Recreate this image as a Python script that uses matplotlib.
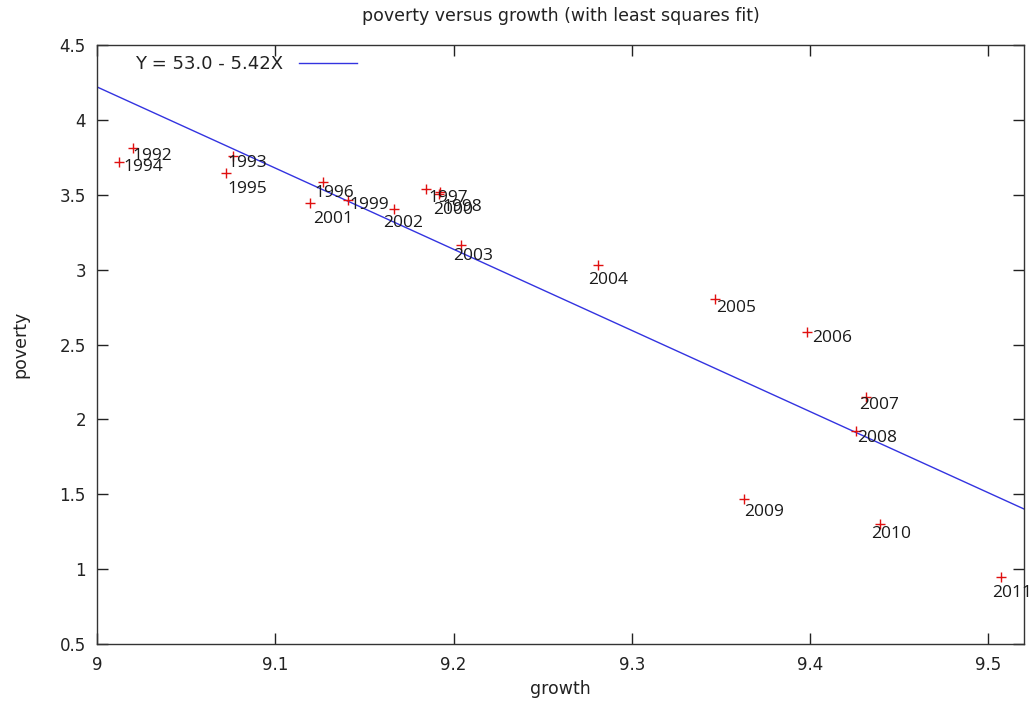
import numpy as np
import matplotlib
matplotlib.use("Agg")
import matplotlib.pyplot as plt

# Yearly observations: growth (x) against poverty (y)
years = ["1992", "1993", "1994", "1995", "1996", "1997", "1998", "1999", "2000", "2001",
         "2002", "2003", "2004", "2005", "2006", "2007", "2008", "2009", "2010", "2011"]
growth = [9.0202, 9.0762, 9.0123, 9.0723, 9.1267, 9.1844, 9.1923, 9.1407, 9.1917, 9.1194,
          9.1665, 9.2040, 9.2808, 9.3464, 9.3985, 9.4311, 9.4260, 9.3627, 9.4395, 9.5073]
poverty = [3.812, 3.759, 3.719, 3.645, 3.585, 3.538, 3.518, 3.465, 3.505, 3.445,
           3.405, 3.164, 3.031, 2.804, 2.583, 2.149, 1.922, 1.468, 1.301, 0.947]

# Least squares fit coefficients, as printed in the key
intercept = 53.0
slope = -5.42

# Label placement relative to each point (pixels, right / down)
label_offsets = {
    "1992": (-1, 8), "1993": (-5, 7), "1994": (4, 5), "1995": (2, 16),
    "1996": (-8, 11), "1997": (3, 9), "1998": (3, 15), "1999": (2, 5),
    "2000": (-6, 16), "2001": (3, 16), "2002": (-11, 14), "2003": (-8, 11),
    "2004": (-9, 15), "2005": (2, 9), "2006": (5, 6), "2007": (-6, 8),
    "2008": (1, 7), "2009": (1, 13), "2010": (-9, 10), "2011": (-9, 16),
}

x_range = (9.0, 9.52)
y_range = (0.5, 4.5)

plt.rcParams["font.family"] = ["DejaVu Sans"]

dpi = 100
fig = plt.figure(figsize=(1033 / dpi, 704 / dpi), dpi=dpi)
ax = fig.add_axes([97 / 1033, 1 - 644 / 704, (1024 - 97) / 1033, (644 - 45) / 704])

ax.set_xlim(*x_range)
ax.set_ylim(*y_range)

# Fitted line across the full x range
xf = np.array(x_range)
ax.plot(xf, intercept + slope * xf, color="#3333e0", lw=1.0,
        label=f"Y = {intercept:.1f} - {abs(slope):.2f}X", zorder=2)

# Data points
ax.plot(growth, poverty, linestyle="none", marker="+", markersize=7.5,
        markeredgewidth=1.0, color="#e01010", zorder=3)

# Year labels beside each point
for yr, gx, py in zip(years, growth, poverty):
    dx, dy = label_offsets[yr]
    ax.annotate(yr, (gx, py), xytext=(dx * 72 / dpi, -dy * 72 / dpi),
                textcoords="offset points", ha="left", va="center",
                fontsize=12.5, color="#1a1a1a", family="Open Sans",
                annotation_clip=False, clip_on=False, zorder=4)

ax.set_xticks([9.0, 9.1, 9.2, 9.3, 9.4, 9.5])
ax.set_xticklabels(["9", "9.1", "9.2", "9.3", "9.4", "9.5"])
ax.set_yticks([0.5, 1, 1.5, 2, 2.5, 3, 3.5, 4, 4.5])
ax.set_yticklabels(["0.5", "1", "1.5", "2", "2.5", "3", "3.5", "4", "4.5"])

ax.tick_params(direction="in", length=8, width=1, top=True, right=True,
               labelsize=12, colors="#222222", pad=8)
ax.tick_params(axis="x", pad=9)
for sp in ax.spines.values():
    sp.set_color("#333333")
    sp.set_linewidth(1.0)

ax.set_title("poverty versus growth (with least squares fit)", fontsize=12.5,
             color="#222222", pad=17)
ax.set_xlabel("growth", fontsize=12.5, color="#222222", labelpad=4)
ax.set_ylabel("poverty", fontsize=12.5, color="#222222", labelpad=22)

leg = ax.legend(loc="upper left", bbox_to_anchor=(0.03, 1.0), frameon=False,
                markerfirst=False, handlelength=3.2, fontsize=13,
                borderaxespad=0.15, handletextpad=0.9)
for t in leg.get_texts():
    t.set_color("#222222")

fig.savefig("out.png", dpi=dpi, facecolor="white")
